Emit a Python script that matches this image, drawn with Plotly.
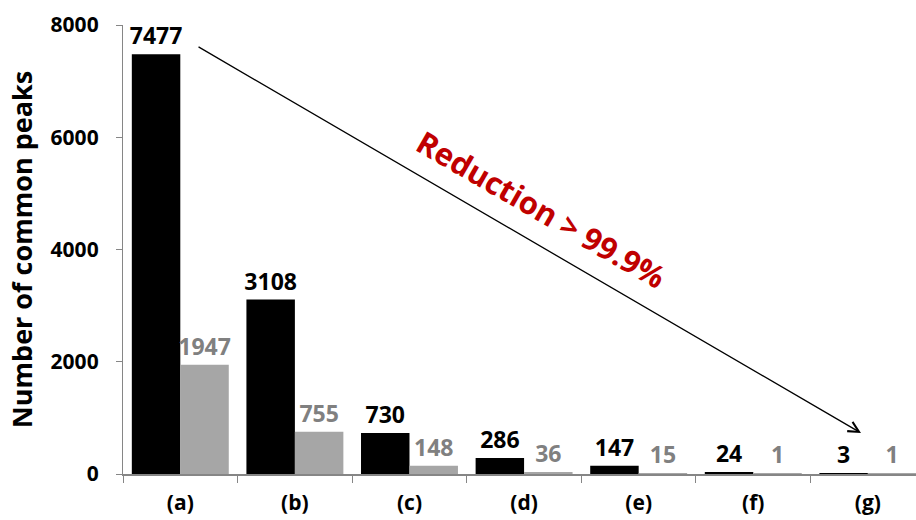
import plotly.graph_objects as go

# Common peaks per filtering stage
categories = ["(a)", "(b)", "(c)", "(d)", "(e)", "(f)", "(g)"]
series_black = [7477, 3108, 730, 286, 147, 24, 3]
series_gray = [1947, 755, 148, 36, 15, 1, 1]
y_ticks = [0, 2000, 4000, 6000, 8000]

FONT = "Open Sans"
AXIS_GRAY = "#868686"

fig = go.Figure()
fig.add_trace(go.Bar(
    x=categories, y=series_black,
    marker=dict(color="#000000", line=dict(width=0)),
    text=[str(v) for v in series_black], textposition="outside", constraintext="none",
    textfont=dict(family=FONT, size=23, color="#000000", weight="bold"),
    cliponaxis=False, showlegend=False,
))
fig.add_trace(go.Bar(
    x=categories, y=series_gray,
    marker=dict(color="#A6A6A6", line=dict(width=0)),
    text=[str(v) for v in series_gray], textposition="outside", constraintext="none",
    textfont=dict(family=FONT, size=23, color="#808080", weight="bold"),
    cliponaxis=False, showlegend=False,
))

# Diagonal arrow spanning the stages
fig.add_annotation(
    x=5.94, y=730, ax=0.146, ay=7625, xref="x", yref="y", axref="x", ayref="y",
    text="", showarrow=True, arrowhead=5, arrowsize=1.6, arrowwidth=1.3,
    arrowcolor="#000000", standoff=0,
)
fig.add_annotation(
    x=3.15, y=4720, xref="x", yref="y", text="<b>Reduction > 99.9%</b>",
    showarrow=False, textangle=30,
    font=dict(family=FONT, size=31, color="#C00000"),
)

fig.update_layout(
    width=916, height=520,
    margin=dict(l=123, r=0, t=25, b=46),
    paper_bgcolor="white", plot_bgcolor="white",
    barmode="group", bargap=0.154, bargroupgap=0,
    font=dict(family=FONT, color="#000000"),
)
fig.update_xaxes(
    range=[-0.5, 6.42], showgrid=False, zeroline=False, automargin=False,
    showline=True, linecolor=AXIS_GRAY, linewidth=2,
    ticks="outside", tickson="boundaries", ticklen=7, tickcolor=AXIS_GRAY, tickwidth=1,
    tickfont=dict(family=FONT, size=21, color="#000000", weight="bold"),
    ticklabelstandoff=9,
)
fig.update_yaxes(
    range=[0, 8000], tickvals=y_ticks, showgrid=False, zeroline=False, automargin=False,
    showline=True, linecolor=AXIS_GRAY, linewidth=1.3,
    ticks="outside", ticklen=6, tickcolor=AXIS_GRAY, tickwidth=1,
    tickfont=dict(family=FONT, size=21, color="#000000", weight="bold"),
    ticklabelstandoff=13,
    title=dict(text="<b>Number of common peaks</b>",
               font=dict(family=FONT, size=27, color="#000000"), standoff=10),
)

fig.write_html("out.html")
